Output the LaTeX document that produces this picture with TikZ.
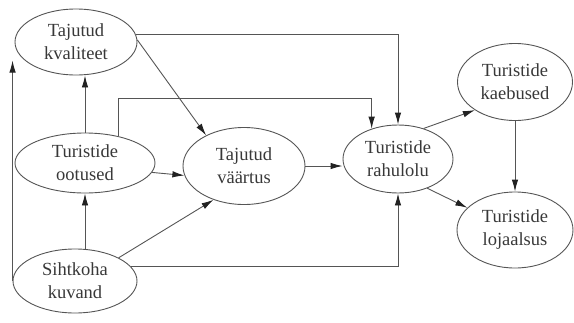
\documentclass[tikz,border=0pt]{standalone}
\usepackage{fontspec}
\setmainfont{Liberation Serif}
\usepackage{tikz}
\usetikzlibrary{arrows.meta,shapes.geometric}
\definecolor{lineclr}{HTML}{555555}
\definecolor{tipclr}{HTML}{222222}
\definecolor{textclr}{HTML}{383838}
\tikzset{
  blob/.style={ellipse, draw=lineclr, line width=0.9pt, align=center, inner sep=0pt,
    text=textclr, font=\fontsize{18.5}{23}\selectfont},
  arr/.style={draw=lineclr, line width=0.9pt, -{Latex[length=12pt,width=6.5pt,color=tipclr]}}
}
\begin{document}
\begin{tikzpicture}[x=1pt,y=-1pt]
\useasboundingbox (0,0) rectangle (574,322);
\node [blob, minimum width=122pt, minimum height=66pt] (kval) at (76,42) {Tajutud\\kvaliteet};
\node [blob, minimum width=140pt, minimum height=60pt] (oot) at (85,163) {Turistide\\ootused};
\node [blob, minimum width=124pt, minimum height=64pt] (siht) at (75,281) {Sihtkoha\\kuvand};
\node [blob, minimum width=122pt, minimum height=77pt] (vaar) at (244,166) {Tajutud\\väärtus};
\node [blob, minimum width=110pt, minimum height=68pt] (rah) at (398,159) {Turistide\\rahulolu};
\node [blob, minimum width=115pt, minimum height=77pt] (kae) at (515,82) {Turistide\\kaebused};
\node [blob, minimum width=116pt, minimum height=76pt] (loj) at (515,230) {Turistide\\lojaalsus};
\draw [arr] (siht.west) -- (siht.west |- kval.200);
\draw [arr] (kval.7) -| (rah.north);
\draw [arr] (kval.2) -- (vaar.141);
\draw [arr] (oot.north) -- (oot.north |- kval.south);
\draw [arr] (oot.39) -- (oot.39 |- 0,98) -| (rah.131);
\draw [arr] (oot.-8) -- (vaar.189);
\draw [arr] (siht.north -| oot.south) -- (oot.south);
\draw [arr] (siht.28) -- (vaar.228);
\draw [arr] (siht.15) -| (rah.south);
\draw [arr] (vaar.east) -- (vaar.east -| rah.west);
\draw [arr] (rah.50) -- (kae.215);
\draw [arr] (rah.-45) -- (loj.155);
\draw [arr] (kae.south) -- (loj.north);
\end{tikzpicture}
\end{document}
